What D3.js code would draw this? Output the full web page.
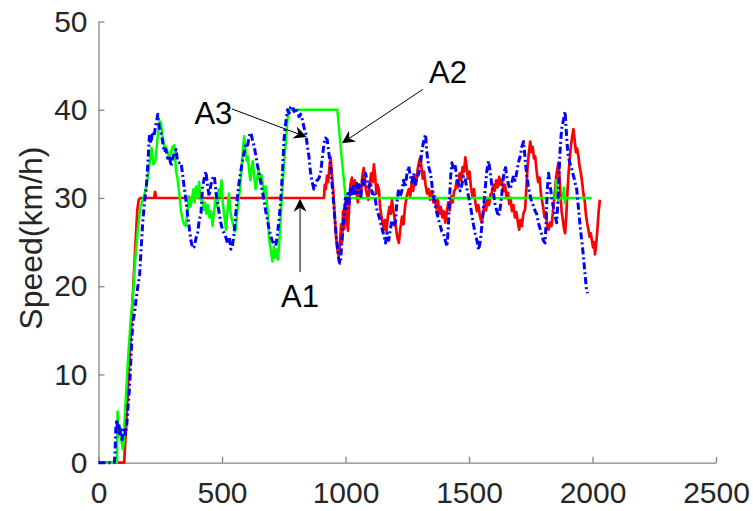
<!DOCTYPE html>
<html>
<head>
<meta charset="utf-8">
<script src="https://cdn.jsdelivr.net/npm/d3@7"></script>
<style>
  html, body { margin: 0; padding: 0; background: #ffffff; }
  svg { display: block; }
  text { font-family: "Liberation Sans", Arial, Helvetica, sans-serif; }
</style>
</head>
<body>
<svg id="chart" width="753" height="511"></svg>
<script>
// ---------- data ----------
const xTicks = [0, 500, 1000, 1500, 2000, 2500];
const yTicks = [0, 10, 20, 30, 40, 50];
const yLabel = "Speed(km/h)";

// A1 (red, solid)
const a1Dist = [0,104,118,132,146,152,157,163,170,225,229,233,300,400,500,600,700,800,913,916,920,925,930,935,940,944,950,956,962,968,973,978,982,986,990,995,1000,1005,1010,1015,1020,1026,1032,1038,1044,1050,1056,1062,1068,1074,1080,1086,1092,1098,1104,1110,1115,1120,1125,1130,1135,1140,1145,1150,1155,1160,1166,1172,1178,1183,1188,1194,1200,1205,1210,1216,1222,1229,1235,1241,1248,1256,1262,1268,1274,1280,1286,1292,1297,1303,1308,1313,1318,1324,1330,1337,1343,1350,1356,1362,1368,1374,1380,1386,1392,1398,1404,1410,1416,1422,1428,1434,1440,1445,1450,1456,1462,1468,1474,1480,1485,1490,1496,1502,1508,1514,1520,1526,1532,1538,1544,1551,1557,1563,1569,1575,1581,1587,1592,1598,1604,1610,1616,1622,1628,1633,1640,1646,1652,1658,1663,1668,1674,1680,1686,1692,1698,1703,1708,1714,1720,1727,1732,1737,1742,1748,1753,1758,1763,1768,1774,1780,1786,1791,1795,1800,1806,1811,1816,1822,1828,1834,1840,1846,1851,1856,1862,1866,1870,1875,1880,1885,1889,1894,1898,1903,1908,1913,1918,1923,1928,1933,1938,1943,1948,1953,1958,1963,1968,1973,1978,1983,1988,1993,1997,2002,2006,2010,2015,2020,2025,2030];
const a1Speed = [0,0,7.6,15.2,22.8,26,28.6,29.8,30,30,30.7,30,30,30,30,30,30,30,30,31.5,31,32.5,31.8,33.5,34.6,33,31,28,25.5,24,23.4,25,27,25,28.5,26.5,29.5,27.5,26.3,29,31.5,32.3,30.5,32,30.8,29.5,31.5,30,32.5,33.4,31.5,30.5,29.8,31.5,32.8,31.8,33.8,32.5,30.5,31.5,31,29,28,27.2,26.4,27.5,26.2,28,29,28.2,29.8,28.5,27.5,26.5,25.5,24.9,26.5,27.9,27,29,30.2,31,30.2,31.8,30.8,32.5,31.6,33.2,34,34.6,33.4,32.2,33,31.5,30.5,31,29.8,30.8,29.5,30.2,28.8,29.8,28.2,29,27.8,28.5,27.2,28.4,29.5,28.6,30.2,29.5,30.8,31,32,31.2,32.8,32,33.5,33,34.6,33.6,32.2,33,31.2,30.2,31,29.5,28.5,29.2,28,27.2,28.2,29.5,28.6,30,29.2,30.4,30.6,31.5,30.8,32,31.2,32.4,31.5,32.1,30.8,31.5,30,30.6,29.3,30,28.5,29.2,27.8,28.4,27.2,26.4,27.5,26.8,28.2,28.7,31,33.5,35,36.4,35.2,35.8,34.5,34.7,33,31.8,32.3,30.5,29.8,29,27.8,28.4,27,26.4,27.2,26.8,28.5,30.2,31.8,33,34,32.5,30.5,28.5,27.5,26.5,26,28,30.5,32.8,34.5,36,37,37.8,36.5,35.2,35.6,34.7,33.5,32.8,31.8,30.5,29.8,28.2,27.2,26.5,25.6,26,25.3,24.4,25,23.6,24.8,26.5,28.5,29.8];

// A2 (green, solid)
const a2Dist = [0,75,77,82,86,92,98,102,106,112,120,130,139,146,159,170,184,195,205,215,222,230,238,247,253,258,263,268,273,280,287,294,300,307,314,320,327,334,341,347,354,360,366,372,378,384,389,395,401,407,413,419,425,431,437,443,449,455,462,468,474,480,486,492,498,503,509,516,522,528,534,540,546,552,556,562,568,573,578,583,587,590,595,600,605,610,615,620,625,630,636,642,648,654,660,666,672,677,682,686,691,698,704,710,716,722,727,732,740,748,756,764,769,967,983,1000,1010,1850,1853,1856,1859,1862,1866,1880,1884,1888,1892,1997];
const a2Speed = [0,0,5.8,3,4.2,2.8,1.5,2.2,5,8,12,16,18.8,22,26.4,29,30.2,31.5,33.5,35.7,33.8,34.2,36.5,38.7,38.6,37.2,36.5,35.5,35.8,35.2,34.5,35.2,35.8,36,33,32.2,30.5,28.5,27.5,27,26.8,28.5,30.2,29,29.8,31,29.5,31.3,30,31.8,29.8,30.5,28.6,29.5,28.2,29.2,27.8,28.5,26.8,28.5,30,29,31,30.2,32,29.5,28,26.4,28.5,30.5,28.5,27.5,27,26.2,26.4,28.5,30,31,33,34.8,36.2,37,35.5,34.2,34.7,33,32,33.5,34.2,32.5,31,32.2,33.2,32,32.6,31.5,30.2,31.3,29.5,28,25.3,24,22.8,24.5,23.2,24.2,23,25,29,32.5,35.5,38.5,40,40,35,30.2,30,30,32,31.8,30,29.5,30,30,31.2,29.4,30,30];

// A3 (blue, dash-dot)
const a3Dist = [0,64,67,70,74,78,82,86,90,95,100,105,110,115,120,125,130,135,139,143,147,152,157,162,166,172,179,186,193,199,206,212,219,225,231,236,240,246,253,259,266,273,280,287,294,300,307,314,320,327,334,340,347,354,361,368,374,381,388,395,401,408,415,421,428,435,441,448,455,462,469,476,482,489,495,502,509,516,522,529,536,542,549,556,562,569,576,583,590,597,604,610,617,624,630,637,643,650,657,663,670,677,684,691,698,705,711,718,724,731,738,745,751,758,765,772,778,785,792,798,805,812,818,825,832,839,845,852,858,865,872,879,885,892,899,906,913,919,926,933,940,946,953,960,967,973,977,980,985,990,994,1000,1005,1010,1015,1020,1026,1032,1038,1044,1050,1056,1062,1068,1075,1081,1087,1094,1101,1108,1114,1121,1128,1135,1142,1148,1155,1162,1168,1175,1182,1188,1195,1202,1208,1215,1222,1228,1235,1242,1249,1256,1262,1269,1276,1283,1290,1297,1304,1310,1317,1324,1330,1337,1344,1350,1357,1363,1370,1377,1384,1390,1397,1404,1411,1416,1421,1426,1431,1437,1443,1450,1457,1464,1471,1478,1485,1492,1498,1505,1512,1518,1525,1532,1539,1545,1552,1559,1566,1572,1579,1586,1592,1599,1606,1613,1620,1627,1633,1640,1647,1654,1660,1667,1674,1680,1687,1694,1700,1707,1714,1721,1727,1734,1741,1748,1754,1761,1768,1774,1781,1788,1795,1801,1808,1812,1816,1822,1828,1835,1841,1848,1855,1860,1865,1870,1875,1880,1885,1889,1893,1897,1902,1908,1914,1920,1926,1931,1936,1941,1946,1951,1956,1961,1966,1971,1976,1980];
const a3Speed = [0,0,1,3.8,4.9,3.5,4.2,3,3.8,2.6,3.5,4,3.2,4.5,6.5,8.3,11,14,15.9,16.5,17.2,18.5,19.5,20.5,21.1,24,27.2,29.5,31,33.5,37,36.2,37.5,37,38.2,38.8,39.5,38,37.4,36.5,35.2,35.5,34.5,34.7,33.6,34.5,35.1,35.5,34.2,34,34,32.8,31.2,29.8,28,26.5,25.2,24.3,24.5,25.5,26,27.5,28.3,31.3,32.2,33,31.5,30.2,31.5,32.2,32.5,30.5,29.5,28.2,27.2,26.4,26,25.5,24.9,25.6,24.2,24.5,26,28.3,30,31.7,33,34.2,35.2,36.2,36,37,37.4,36.5,35.9,34.8,33.8,32.8,31.8,30.8,29.8,28.5,27.5,26.4,25.6,25,25.3,24.6,25.8,27.5,29.8,33,36.6,38.5,40,39.6,40.3,40.4,39.8,40.2,39.8,39.2,39.5,38.9,38,37.4,36,34.7,33,31.8,31,31.5,32,32.2,32.8,34.5,36.2,36.8,36.6,35,33.6,31.5,29.1,26.5,24.5,23,22.6,22.8,25,26.8,27.9,30.2,28.8,30.5,29.4,31,30.2,31.5,30.5,31.8,30.6,31.5,30.2,32,31.5,32.8,32,31.2,31.8,30.5,30.8,29.8,28.5,28,27.2,26.5,25.8,24.9,26,25.2,26.5,27.5,26.8,27.2,29.5,31,30.2,30.8,32,31.2,32.8,33.6,32.5,31.8,32.8,31.5,32.4,32.8,34,35.5,36.5,37.2,35,33.5,32.8,31.5,30,29.2,28.3,27.5,26.8,26.2,26,25.2,24.5,26.5,29.8,32.5,34,33.2,33.8,32.5,31.5,30.8,31.5,32.5,32.1,31,30.2,29.2,28,27,26,25.2,24.1,25,26.8,29,31.2,33,34.2,33,31.5,30.5,29.2,28.5,27.9,29,30.5,32.5,33.6,32.2,31.5,31,31.8,32.5,32,33,34,34.7,35.8,36.4,34.5,32.5,31.2,30.2,29.5,29.1,28.5,28.2,27.2,26.5,25.8,25.2,24.9,27,30.5,32.8,31.5,30,29,28,27.2,29.5,33,36,37.8,38.5,39.2,39.8,38,36.2,34.7,34,33.5,32.8,32.2,31.5,31,29.5,28,26.5,25.3,24,22.5,21,19.5,19.2];

// annotations: label, text position, arrow start, arrow tip (data units)
const annLabels = ["A3", "A2", "A1"];
const annText   = [[465, 38.4], [1415, 43.0], [816, 17.6]];
const annFrom   = [[540, 40.1], [1313, 42.3], [816, 21.6]];
const annTip    = [[843, 36.9], [985, 36.2], [816, 29.9]];

// ---------- drawing ----------
const svg = d3.select("#chart");
svg.append("rect").attr("width", 753).attr("height", 511).attr("fill", "#ffffff");

const x = d3.scaleLinear().domain([0, 2500]).range([98.5, 716]);
const y = d3.scaleLinear().domain([0, 50]).range([462.7, 21.5]);

const axisColor = "#858585";
const textColor = "#262626";
const tickFont = 30;

const gx = svg.append("g").attr("transform", `translate(0,${y(0)})`)
  .call(d3.axisBottom(x).tickValues(xTicks).tickFormat(d3.format("d"))
        .tickSizeInner(-6).tickSizeOuter(0).tickPadding(19));
const gy = svg.append("g").attr("transform", `translate(${x(0)},0)`)
  .call(d3.axisLeft(y).tickValues(yTicks).tickFormat(d3.format("d"))
        .tickSizeInner(-6).tickSizeOuter(0).tickPadding(11));
[gx, gy].forEach(g => {
  g.select(".domain").attr("stroke", axisColor).attr("stroke-width", 1.3);
  g.selectAll(".tick line").attr("stroke", axisColor).attr("stroke-width", 1.3);
  g.selectAll(".tick text").attr("fill", textColor)
    .style("font-size", tickFont + "px").style("font-family", '"Liberation Sans", Arial, sans-serif');
});

svg.append("text")
  .attr("transform", `translate(42,${(y(0) + y(50)) / 2 - 4}) rotate(-90)`)
  .attr("text-anchor", "middle")
  .attr("fill", textColor)
  .style("font-size", "32px")
  .text(yLabel);

const line = d3.line().x(d => x(d[0])).y(d => y(d[1]));
const zip = (a, b) => a.map((v, i) => [v, b[i]]);

svg.append("path").datum(zip(a1Dist, a1Speed)).attr("d", line)
  .attr("fill", "none").attr("stroke", "#ff0000").attr("stroke-width", 2.7).attr("stroke-linejoin", "round");
svg.append("path").datum(zip(a2Dist, a2Speed)).attr("d", line)
  .attr("fill", "none").attr("stroke", "#00ff00").attr("stroke-width", 2.5).attr("stroke-linejoin", "round");
svg.append("path").datum(zip(a3Dist, a3Speed)).attr("d", line)
  .attr("fill", "none").attr("stroke", "#0000ff").attr("stroke-width", 3)
  .attr("stroke-dasharray", "7,3,2,3").attr("stroke-linejoin", "round");

// annotations
annLabels.forEach((lab, i) => {
  svg.append("text")
    .attr("x", x(annText[i][0])).attr("y", y(annText[i][1]))
    .attr("text-anchor", "middle").attr("fill", "#000000")
    .style("font-size", "31px").text(lab);
  const x0 = x(annFrom[i][0]), y0 = y(annFrom[i][1]);
  const x1 = x(annTip[i][0]), y1 = y(annTip[i][1]);
  const ang = Math.atan2(y1 - y0, x1 - x0);
  const L = 13, W = 6.5, notch = 9;
  const ux = Math.cos(ang), uy = Math.sin(ang);
  const px = -uy, py = ux;
  const bx = x1 - ux * L, by = y1 - uy * L;
  const nx = x1 - ux * notch, ny = y1 - uy * notch;
  svg.append("line").attr("x1", x0).attr("y1", y0).attr("x2", nx).attr("y2", ny)
    .attr("stroke", "#000000").attr("stroke-width", 1);
  svg.append("path")
    .attr("d", `M${x1},${y1} L${bx + px * W},${by + py * W} L${nx},${ny} L${bx - px * W},${by - py * W} Z`)
    .attr("fill", "#000000");
});
</script>
</body>
</html>
